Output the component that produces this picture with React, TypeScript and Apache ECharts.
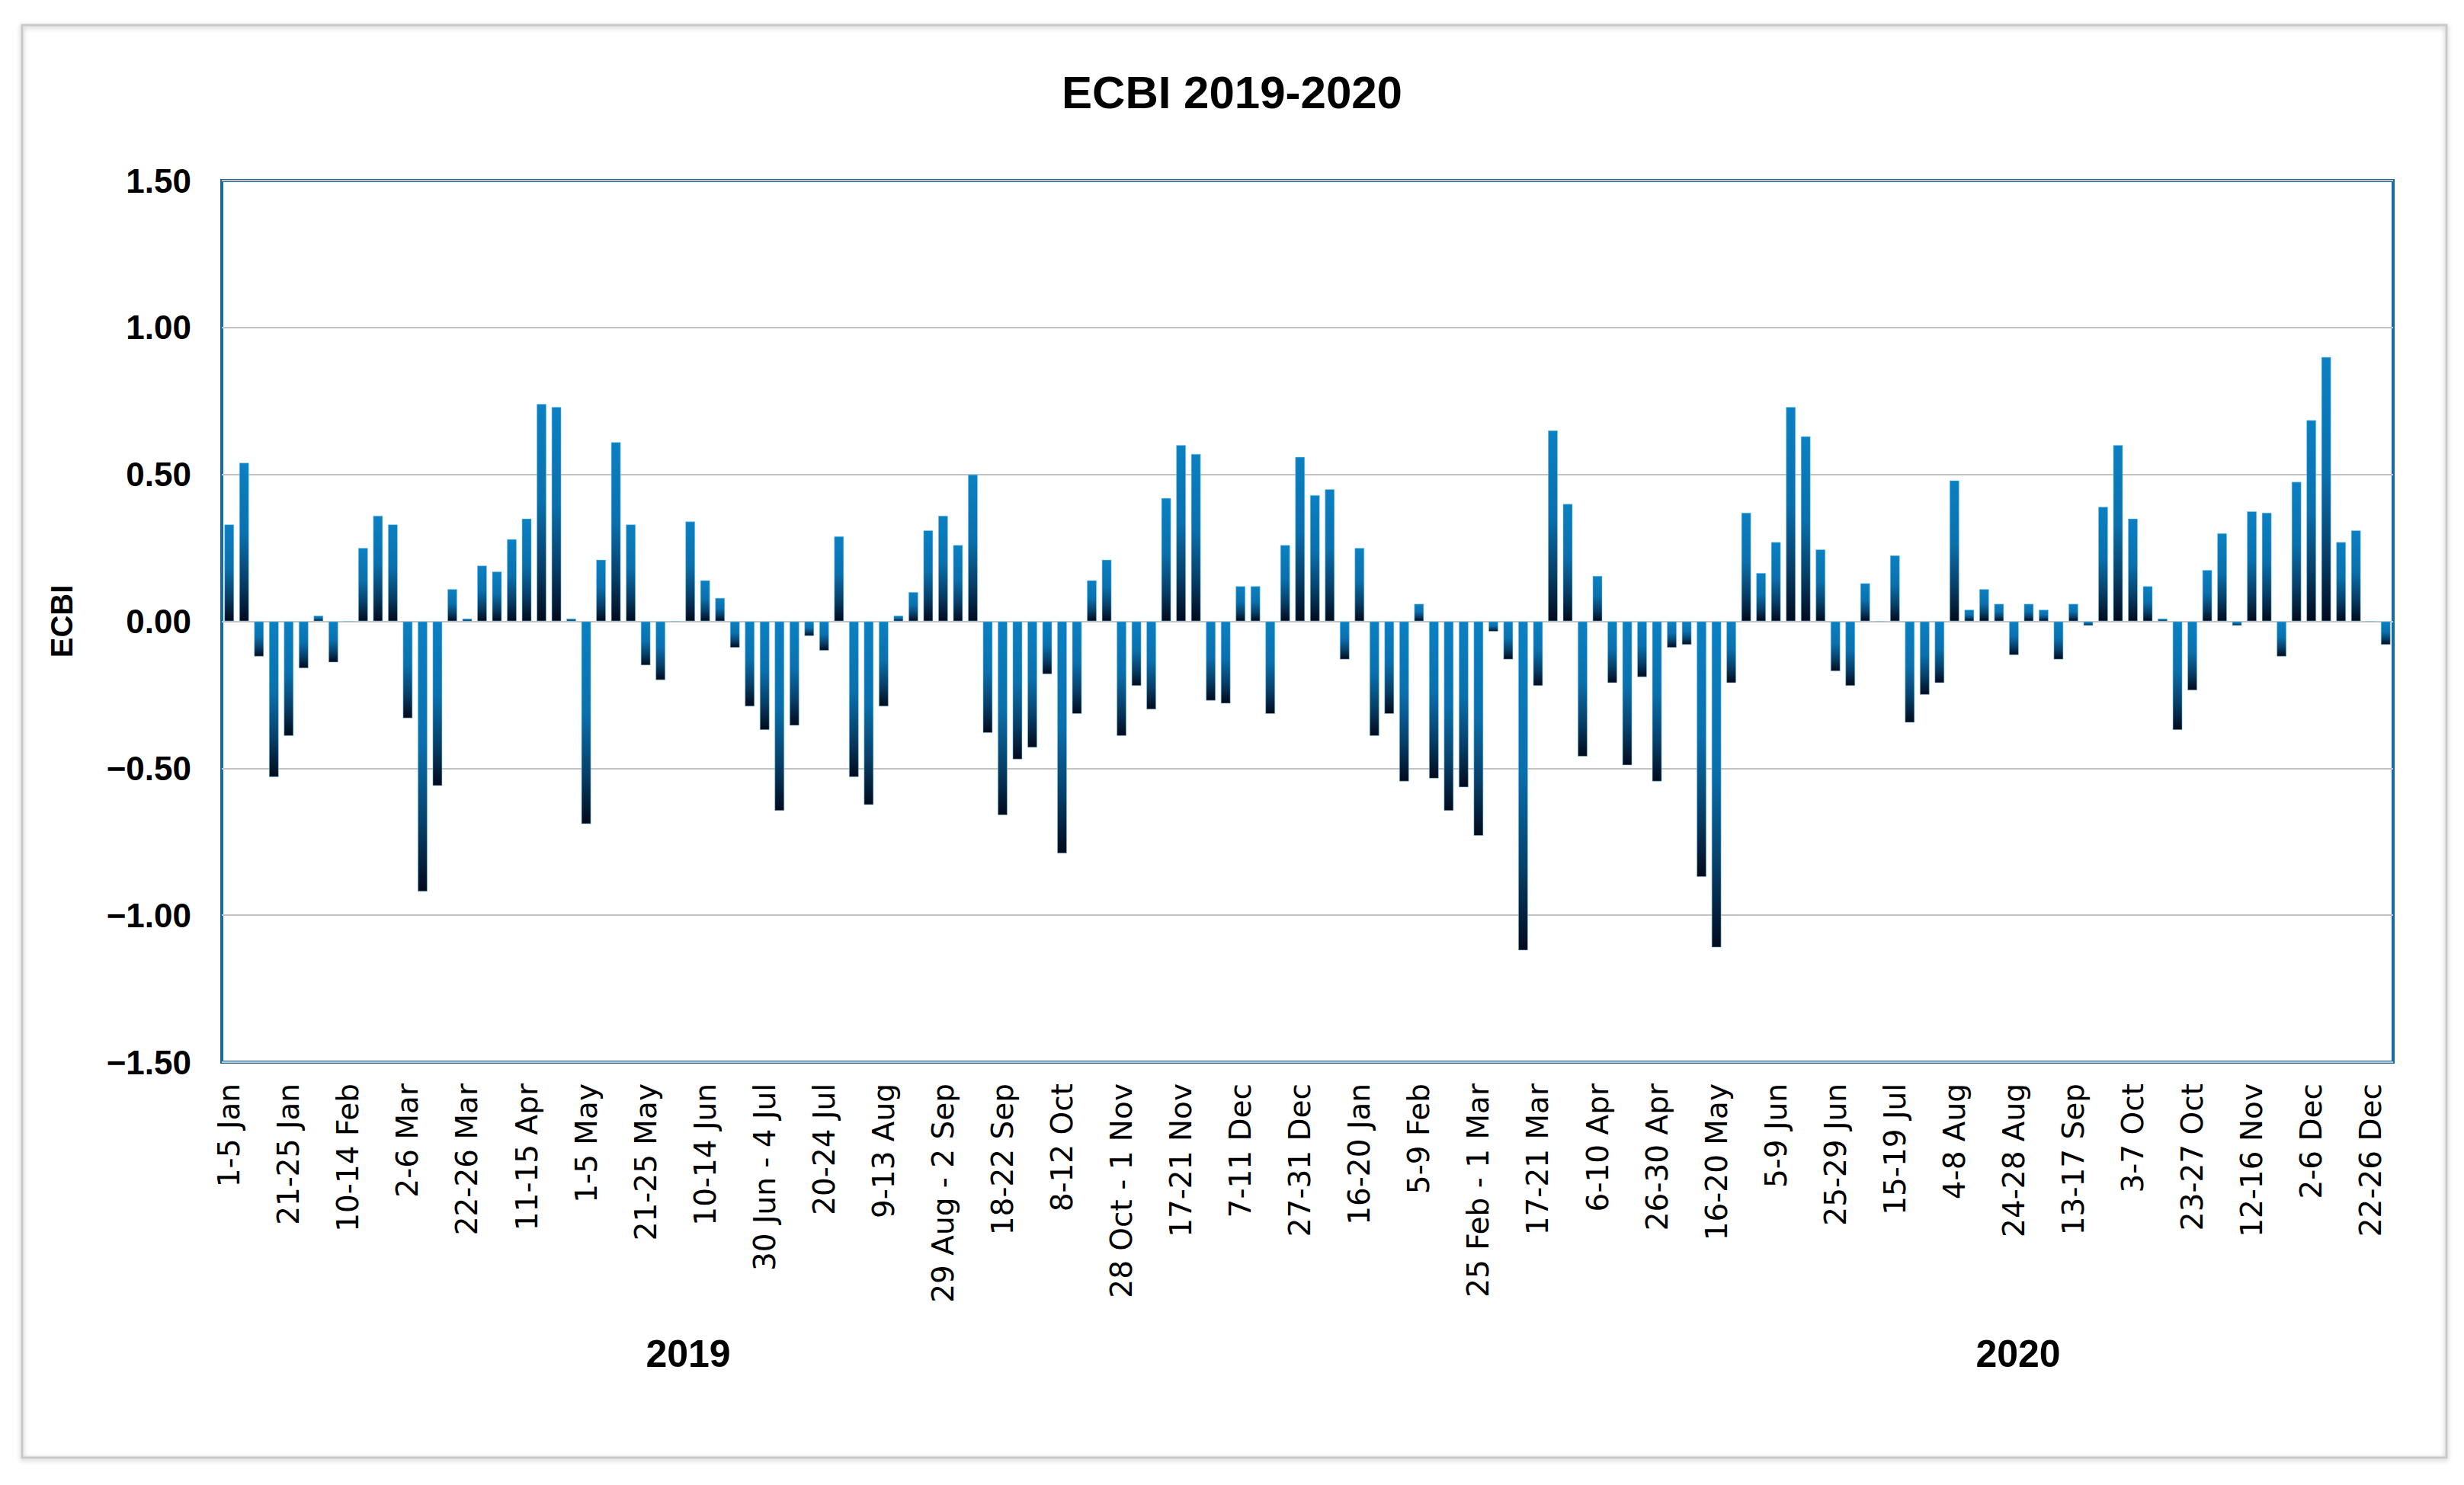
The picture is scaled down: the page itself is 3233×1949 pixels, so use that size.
import React, { useEffect, useRef } from "react";
import * as echarts from "echarts";

const PENTADS = [
  "1-5 Jan", "6-10 Jan", "11-15 Jan", "16-20 Jan", "21-25 Jan", "26-30 Jan", "31 Jan - 4 Feb",
  "5-9 Feb", "10-14 Feb", "15-19 Feb", "20-24 Feb", "25 Feb - 1 Mar",
  "2-6 Mar", "7-11 Mar", "12-16 Mar", "17-21 Mar", "22-26 Mar", "27-31 Mar",
  "1-5 Apr", "6-10 Apr", "11-15 Apr", "16-20 Apr", "21-25 Apr", "26-30 Apr",
  "1-5 May", "6-10 May", "11-15 May", "16-20 May", "21-25 May", "26-30 May", "31 May - 4 Jun",
  "5-9 Jun", "10-14 Jun", "15-19 Jun", "20-24 Jun", "25-29 Jun", "30 Jun - 4 Jul",
  "5-9 Jul", "10-14 Jul", "15-19 Jul", "20-24 Jul", "25-29 Jul", "30 Jul - 3 Aug",
  "4-8 Aug", "9-13 Aug", "14-18 Aug", "19-23 Aug", "24-28 Aug", "29 Aug - 2 Sep",
  "3-7 Sep", "8-12 Sep", "13-17 Sep", "18-22 Sep", "23-27 Sep", "28 Sep - 2 Oct",
  "3-7 Oct", "8-12 Oct", "13-17 Oct", "18-22 Oct", "23-27 Oct", "28 Oct - 1 Nov",
  "2-6 Nov", "7-11 Nov", "12-16 Nov", "17-21 Nov", "22-26 Nov", "27 Nov - 1 Dec",
  "2-6 Dec", "7-11 Dec", "12-16 Dec", "17-21 Dec", "22-26 Dec", "27-31 Dec",
];

const YEARS = ["2019", "2020"];

const ECBI_2019 = [
  0.33, 0.54, -0.12, -0.53, -0.39, -0.16, 0.02, -0.14, 0, 0.25,
  0.36, 0.33, -0.33, -0.92, -0.56, 0.11, 0.01, 0.19, 0.17, 0.28,
  0.35, 0.74, 0.73, 0.01, -0.69, 0.21, 0.61, 0.33, -0.15, -0.2,
  0, 0.34, 0.14, 0.08, -0.09, -0.29, -0.37, -0.645, -0.355, -0.05,
  -0.1, 0.29, -0.53, -0.625, -0.29, 0.02, 0.1, 0.31, 0.36, 0.26,
  0.5, -0.38, -0.66, -0.47, -0.43, -0.18, -0.79, -0.315, 0.14, 0.21,
  -0.39, -0.22, -0.3, 0.42, 0.6, 0.57, -0.27, -0.28, 0.12, 0.12,
  -0.315, 0.26, 0.56,
];

const ECBI_2020 = [
  0.43, 0.45, -0.13, 0.25, -0.39, -0.315, -0.545, 0.06, -0.535, -0.645,
  -0.565, -0.73, -0.035, -0.13, -1.12, -0.22, 0.65, 0.4, -0.46, 0.155,
  -0.21, -0.49, -0.19, -0.545, -0.09, -0.08, -0.87, -1.11, -0.21, 0.37,
  0.165, 0.27, 0.73, 0.63, 0.245, -0.17, -0.22, 0.13, 0, 0.225,
  -0.345, -0.25, -0.21, 0.48, 0.04, 0.11, 0.06, -0.115, 0.06, 0.04,
  -0.13, 0.06, -0.015, 0.39, 0.6, 0.35, 0.12, 0.01, -0.37, -0.235,
  0.175, 0.3, -0.015, 0.375, 0.37, -0.12, 0.475, 0.685, 0.9, 0.27,
  0.31, 0, -0.08,
];

const Y_MIN = -1.5;
const Y_MAX = 1.5;
const Y_STEP = 0.5;

export default function App() {
  const ref = useRef<HTMLDivElement>(null);

  useEffect(() => {
    document.body.style.margin = "0";
    const chart = echarts.init(ref.current!, null, { renderer: "svg" });

    const categories = [
      ...PENTADS.map((p) => `${p}|${YEARS[0]}`),
      ...PENTADS.map((p) => `${p}|${YEARS[1]}`),
    ];
    const values = [...ECBI_2019, ...ECBI_2020];

    const barGradient = new echarts.graphic.LinearGradient(0, 0, 0, 1, [
      { offset: 0, color: "#0b80c2" },
      { offset: 0.45, color: "#0a70ad" },
      { offset: 0.75, color: "#073f68" },
      { offset: 1, color: "#020a1c" },
    ]);

    const option: any = {
      animation: false,
      backgroundColor: "#ffffff",
      title: {
        text: "ECBI 2019-2020",
        left: "center",
        top: 86,
        textStyle: {
          fontFamily: "Liberation Sans",
          fontWeight: "bold",
          fontSize: 60,
          color: "#000000",
        },
      },
      grid: {
        left: 291,
        right: 93,
        top: 237,
        bottom: 555,
        show: true,
        borderColor: "#176c9f",
        borderWidth: 4,
        backgroundColor: "transparent",
      },
      xAxis: {
        type: "category",
        data: categories,
        position: "bottom",
        axisLine: { show: false, onZero: false },
        axisTick: { show: false },
        splitLine: { show: false },
        axisLabel: {
          interval: 3,
          rotate: 90,
          margin: 28,
          fontFamily: "DejaVu Sans",
          fontSize: 39,
          color: "#000000",
          formatter: (v: string) => v.split("|")[0],
        },
      },
      yAxis: {
        type: "value",
        min: Y_MIN,
        max: Y_MAX,
        interval: Y_STEP,
        name: "ECBI",
        nameLocation: "middle",
        nameRotate: 90,
        nameGap: 190,
        nameTextStyle: {
          fontFamily: "Liberation Sans",
          fontWeight: "bold",
          fontSize: 40,
          color: "#000000",
        },
        axisLine: { show: false },
        axisTick: { show: false },
        splitLine: { show: true, lineStyle: { color: "#c3c3c3", width: 2 } },
        axisLabel: {
          margin: 40,
          fontFamily: "Liberation Sans",
          fontWeight: "bold",
          fontSize: 44,
          color: "#000000",
          formatter: (v: number) => (v < 0 ? "\u2212" + Math.abs(v).toFixed(2) : v.toFixed(2)),
        },
      },
      series: [
        {
          type: "bar",
          data: values,
          barWidth: 13,
          itemStyle: {
            color: barGradient,
            borderColor: "rgba(120,200,235,0.55)",
            borderWidth: 1,
          },
        },
      ],
      graphic: [
        {
          type: "rect",
          z: -10,
          shape: { x: 29, y: 33, width: 3181, height: 1880 },
          style: {
            fill: "none",
            stroke: "#c8c8c8",
            lineWidth: 3,
            shadowBlur: 6,
            shadowColor: "rgba(0,0,0,0.25)",
            shadowOffsetY: 2,
          },
        },
        {
          type: "text",
          x: 903,
          y: 1777,
          style: {
            text: YEARS[0],
            fontFamily: "Liberation Sans",
            fontWeight: "bold",
            fontSize: 50,
            fill: "#000000",
            textAlign: "center",
            textVerticalAlign: "middle",
          },
        },
        {
          type: "text",
          x: 2648,
          y: 1777,
          style: {
            text: YEARS[1],
            fontFamily: "Liberation Sans",
            fontWeight: "bold",
            fontSize: 50,
            fill: "#000000",
            textAlign: "center",
            textVerticalAlign: "middle",
          },
        },
      ],
    };

    chart.setOption(option);
    return () => chart.dispose();
  }, []);

  return <div ref={ref} style={{ width: 3233, height: 1949 }} />;
}
